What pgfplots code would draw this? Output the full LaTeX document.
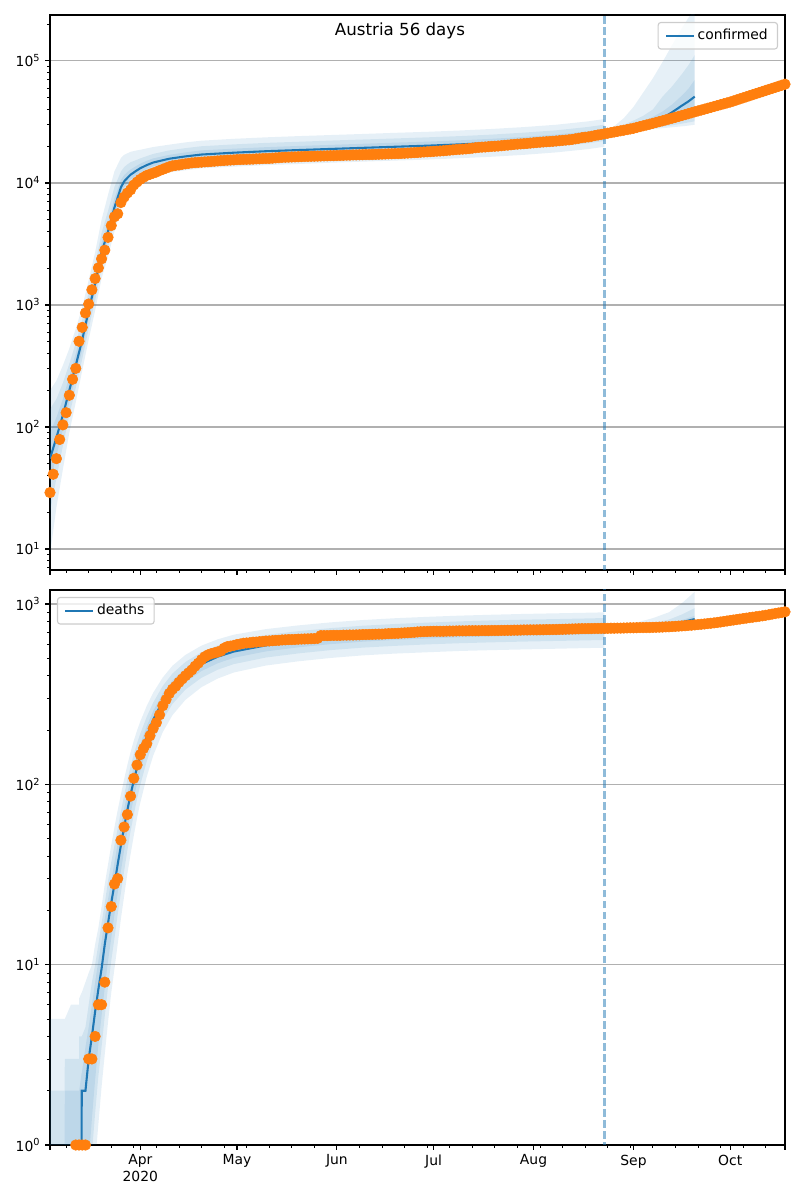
\documentclass[border=0pt]{standalone}
\usepackage{fontspec}
\setmainfont{DejaVu Sans}
\usepackage{pgfplots}
\usepackage{pgfplotstable}
\pgfplotsset{compat=1.18}
\usepgfplotslibrary{fillbetween}

\definecolor{tabblue}{HTML}{1F77B4}
\definecolor{taborange}{HTML}{FF7F0E}
\definecolor{gridgray}{HTML}{B0B0B0}
\definecolor{legendgray}{HTML}{CCCCCC}

% confirmed: fitted curve and three bands (1 inner, 3 outer)
\pgfplotstableread{
d   m     l1    h1    l2    h2    l3    h3
63  55    35    90    20    140   9     200
65  82    58    120   38    170   22    240
67  125   95    170   70    230   45    320
69  200   160   260   125   330   90    440
71  320   260   400   210   490   160   640
73  520   430   630   360   760   290   960
75  900   760   1080  640   1280  520   1600
77  1500  1280  1780  1090  2150  900   2700
79  2700  2300  3200  2000  3900  1650  5000
81  4000  3400  4800  2950  5900  2500  8000
83  6300  5400  7500  4700  9300  4000  12500
85  9200  8100  10600 7100  12400 6100  16000
86  10300 9200  11600 8200  13500 7000  17000
87  11000 10000 12300 9000  14200 7800  17500
88  11700 10700 12900 9700  14800 8500  18000
90  12700 11700 13900 10600 15500 9400  18500
91  13200 12200 14400 11100 15900 9800  18700
93  14000 13000 15200 11900 16600 10600 19200
95  14700 13700 15900 12600 17300 11300 19700
100 15800 14700 17000 13600 18500 12200 20600
105 16500 15350 17800 14200 19300 12700 21500
110 17100 15900 18500 14700 20000 13200 22200
120 17700 16500 19100 15200 20700 13600 23000
130 18200 16900 19650 15650 21300 14000 23650
140 18600 17300 20100 16000 21750 14300 24200
150 19000 17650 20500 16350 22250 14650 24700
160 19400 18050 20950 16700 22700 14950 25200
170 19800 18400 21400 17050 23150 15250 25750
180 20200 18800 21800 17350 23650 15550 26250
190 20700 19250 22350 17800 24200 15950 26900
200 21300 19800 23000 18300 24900 16400 27700
210 22100 20550 23850 19000 25850 17000 28700
220 23100 21500 24950 19850 27000 17800 30000
230 24600 22900 26550 21150 28800 18950 32000
235 25700 23900 27750 22100 30050 19800 33400
}\cfit

% confirmed: forecast after the cut
\pgfplotstableread{
d   m     l1    h1    l2    h2     l3    h3
235 25700 25300 26100 25000 26400  24800 26700
238 26700 26100 27400 25800 28000  25500 29200
241 27800 26900 28900 26500 30000  26100 34000
244 28800 27600 30300 27000 32500  26600 42000
247 30000 28400 32200 27600 35500  27100 55000
250 31500 29500 34800 28200 40000  27600 72000
253 34000 31200 38500 28900 51000  28100 98000
256 38000 33500 44000 29700 62000  28600 135000
259 43000 36500 52000 30600 78000  29100 185000
261 46500 38500 59000 31300 92000  29500 225000
263 51000 41000 70000 32000 112000 30000 270000
}\cfc

% deaths: fitted curve and bands
\pgfplotstableread{
d     m    l1   h1   l2   h2   l3   h3
63    0.1  0.1  1    0.1  2    0.1  5
67.5  0.1  0.1  1    0.1  2    0.1  5
67.6  0.1  0.1  2    0.1  3    0.1  5
69.5  0.1  0.1  2    0.1  3    0.1  6
72    0.1  0.1  2    0.1  3    0.1  6
72.05 1    0.1  2    0.1  4    0.1  6.5
72.8  1    0.1  2.5  0.1  4    0.1  7
72.85 2    0.1  2.5  0.1  4    0.1  7
74    2    0.4  3.5  0.2  4.5  0.1  8
75    3    0.8  4.5  0.5  6    0.2  9
76    4    1.4  6    0.9  8    0.4  10
77    5.5  2.3  8    1.5  10   0.8  13
78    7.3  3.6  10.5 2.4  13   1.3  16
79    9.5  5.2  13.5 3.5  17   2.1  21
80    13   7.5  18   5.2  22   3.2  28
81    17   10.5 23   7.5  29   4.8  36
82    22   14   29   10.5 37   7    46
83    28   19   37   14   46   9.5  58
84    36   25   47   19   57   13   72
85    46   33   59   25   71   18   88
86    58   43   73   33   87   24   107
87    72   55   89   43   106  32   128
88    88   69   107  55   126  41   151
89    105  84   126  68   147  52   175
90    124  101  146  83   169  65   199
91    144  119  167  99   191  79   223
93    185  157  210  134  237  110  272
95    228  197  255  172  284  144  322
98    290  256  320  228  352  195  392
101   345  309  377  279  412  242  455
105   405  367  440  335  477  294  522
110   465  425  502  390  541  346  588
115   510  469  549  432  589  386  637
120   545  503  585  464  626  417  676
130   590  546  632  505  674  456  726
140   620  575  663  532  707  481  761
150   645  599  689  555  735  502  791
160   665  618  711  573  758  519  815
170   680  632  727  586  775  531  834
180   692  643  740  597  789  540  849
190   703  654  752  606  801  549  862
200   711  661  761  613  811  555  872
210   718  668  768  619  819  560  881
220   724  673  775  624  825  565  888
230   730  679  781  629  832  570  895
235   733  682  784  632  836  572  899
}\dfit

% deaths: forecast after the cut
\pgfplotstableread{
d   m    l1   h1   l2   h2   l3   h3
235 733  730  737  728  740  726  745
240 737  733  742  730  748  727  760
245 743  738  750  733  762  729  790
250 752  745  763  738  785  733  835
255 770  760  785  752  820  745  900
259 793  780  815  770  875  758  1010
263 825  805  860  790  950  775  1170
}\dfc

\newcommand{\band}[4]{%
  \addplot[draw=none, forget plot, name path=#4hi] table[x=d, y=#3] {#1};
  \addplot[draw=none, forget plot, name path=#4lo] table[x=d, y=#2] {#1};
  \addplot[fill=tabblue, fill opacity=0.11, draw=none, forget plot] fill between[of=#4hi and #4lo];
}

\pgfplotsset{
  legend image code/.code={\draw[#1, line width=1.5pt] (0pt,0pt) -- (20pt,0pt);},
  panel/.style={
    scale only axis, width=529.2pt, height=399.6pt,
    xmin=63, xmax=291,
    axis line style={line width=0.8pt},
    tick align=outside, tick pos=left,
    major tick length=3.5pt, minor tick length=2pt,
    major tick style={black, line width=0.8pt},
    minor tick style={black, line width=0.6pt},
    xtick={63,91,121,152,182,213,244,274,291},
    minor xtick={68,75,82,89,96,103,110,117,124,131,138,145,152,159,166,173,180,187,194,201,208,215,222,229,236,243,250,257,264,271,278,285},
    ymajorgrids, major grid style={gridgray, line width=0.8pt},
    tick label style={font=\fontsize{10}{12}\selectfont},
    legend style={font=\fontsize{10}{12}\selectfont, draw=legendgray, line width=0.8pt,
      rounded corners=2pt, fill=white, fill opacity=0.8, text opacity=1,
      inner xsep=5pt, inner ysep=3pt, cells={anchor=west}},
  }
}

\begin{document}
\begin{tikzpicture}

% ---------------- confirmed ----------------
\begin{semilogyaxis}[panel, at={(36pt,453.6pt)}, anchor=south west,
  ymin=6.73, ymax=238000,
  ytick={10,100,1000,10000,100000},
  yticklabels={10\textsuperscript{1},10\textsuperscript{2},10\textsuperscript{3},10\textsuperscript{4},10\textsuperscript{5}},
  minor ytick={7,8,9,20,30,40,50,60,70,80,90,200,300,400,500,600,700,800,900,2000,3000,4000,5000,6000,7000,8000,9000,20000,30000,40000,50000,60000,70000,80000,90000,200000},
  xticklabels={},
  legend style={at={(1,1)}, anchor=north east, xshift=-5pt, yshift=-5pt},
]
\band{\cfit}{l3}{h3}{ca}
\band{\cfit}{l2}{h2}{cb}
\band{\cfit}{l1}{h1}{cc}
\band{\cfc}{l3}{h3}{cd}
\band{\cfc}{l2}{h2}{ce}
\band{\cfc}{l1}{h1}{cf}
\addplot[tabblue, line width=1.5pt] table[x=d, y=m] {\cfit};
\addlegendentry{confirmed}
\addplot[tabblue, line width=1.5pt, forget plot] table[x=d, y=m] {\cfc};
\addplot[tabblue, draw opacity=0.5, line width=1.5pt, dash pattern=on 5.5pt off 2.4pt, forget plot]
  coordinates {(235,1) (235,1000000)};
\addplot[only marks, mark=*, mark size=3.8pt, color=taborange, forget plot] coordinates {
(63,29)(64,41)(65,55)(66,79)(67,104)(68,131)(69,182)(70,246)(71,302)(72,504)
(73,655)(74,860)(75,1018)(76,1332)(77,1646)(78,2013)(79,2388)(80,2814)(81,3582)(82,4474)
(83,5283)(84,5588)(85,6909)(86,7657)(87,8271)(88,8788)(89,9618)(90,10180)(91,10711)(92,11129)
(93,11524)(94,11781)(95,12051)(96,12297)(97,12639)(98,12942)(99,13244)(100,13555)(101,13806)(102,13945)
(103,14041)(104,14226)(105,14336)(106,14476)(107,14595)(108,14671)(109,14749)(110,14795)(111,14873)(112,14925)
(113,15002)(114,15071)(115,15148)(116,15225)(117,15274)(118,15357)(119,15402)(120,15452)(121,15531)(122,15558)
(123,15597)(124,15621)(125,15650)(126,15684)(127,15752)(128,15774)(129,15833)(130,15871)(131,15882)(132,15961)
(133,16058)(134,16109)(135,16201)(136,16242)(137,16269)(138,16321)(139,16353)(140,16404)(141,16436)(142,16486)
(143,16503)(144,16539)(145,16557)(146,16591)(147,16628)(148,16655)(149,16685)(150,16731)(151,16733)(152,16771)
(153,16805)(154,16843)(155,16898)(156,16902)(157,16968)(158,16979)(159,17005)(160,17034)(161,17064)(162,17078)
(163,17109)(164,17135)(165,17189)(166,17223)(167,17271)(168,17323)(169,17341)(170,17380)(171,17406)(172,17449)
(173,17521)(174,17573)(175,17654)(176,17723)(177,17766)(178,17873)(179,17941)(180,18001)(181,18050)(182,18135)
(183,18222)(184,18280)(185,18365)(186,18472)(187,18573)(188,18682)(189,18783)(190,18873)(191,18948)(192,19015)
(193,19117)(194,19270)(195,19439)(196,19573)(197,19656)(198,19714)(199,19827)(200,19926)(201,19999)(202,20074)
(203,20187)(204,20343)(205,20418)(206,20558)(207,20702)(208,20808)(209,20889)(210,20975)(211,21085)(212,21212)
(213,21337)(214,21460)(215,21565)(216,21670)(217,21771)(218,21850)(219,21950)(220,22065)(221,22199)(222,22323)
(223,22446)(224,22581)(225,22745)(226,22997)(227,23232)(228,23499)(229,23692)(230,23847)(231,24125)(232,24429)
(233,24719)(234,24977)(235,25253)(236,25550)(237,25850)(238,26150)(239,26450)(240,26750)(241,27050)(242,27350)
(243,27700)(244,28050)(245,28500)(246,28950)(247,29400)(248,29850)(249,30300)(250,30800)(251,31300)(252,31800)
(253,32300)(254,32850)(255,33400)(256,33950)(257,34500)(258,35100)(259,35700)(260,36300)(261,36950)(262,37600)
(263,38270)(264,38920)(265,39580)(266,40250)(267,40930)(268,41620)(269,42330)(270,43050)(271,43780)(272,44520)
(273,45270)(274,46040)(275,46960)(276,47900)(277,48860)(278,49840)(279,50830)(280,51850)(281,52890)(282,53950)
(283,55030)(284,56130)(285,57250)(286,58400)(287,59560)(288,60750)(289,61970)(290,63210)(291,64470)
};
\end{semilogyaxis}

% ---------------- deaths ----------------
\begin{semilogyaxis}[panel, at={(36pt,39.6pt)}, anchor=south west,
  ymin=1, ymax=1196,
  ytick={1,10,100,1000},
  yticklabels={10\textsuperscript{0},10\textsuperscript{1},10\textsuperscript{2},10\textsuperscript{3}},
  minor ytick={2,3,4,5,6,7,8,9,20,30,40,50,60,70,80,90,200,300,400,500,600,700,800,900},
  xticklabels={,Apr\\2020,May,Jun,Jul,Aug,Sep,Oct,},
  xticklabel style={align=center},
  legend style={at={(0,1)}, anchor=north west, xshift=5pt, yshift=-5pt},
]
\band{\dfit}{l3}{h3}{da}
\band{\dfit}{l2}{h2}{db}
\band{\dfit}{l1}{h1}{dc}
\band{\dfc}{l3}{h3}{dd}
\band{\dfc}{l2}{h2}{de}
\band{\dfc}{l1}{h1}{df}
\addplot[tabblue, line width=1.5pt] table[x=d, y=m] {\dfit};
\addlegendentry{deaths}
\addplot[tabblue, line width=1.5pt, forget plot] table[x=d, y=m] {\dfc};
\addplot[tabblue, draw opacity=0.5, line width=1.5pt, dash pattern=on 5.5pt off 2.4pt, forget plot]
  coordinates {(235,0.1) (235,100000)};
\addplot[only marks, mark=*, mark size=3.8pt, color=taborange, forget plot] coordinates {
(71,1)(72,1)(73,1)(74,1)(75,3)(76,3)(77,4)(78,6)(79,6)(80,8)
(81,16)(82,21)(83,28)(84,30)(85,49)(86,58)(87,68)(88,86)(89,108)(90,128)
(91,146)(92,158)(93,168)(94,186)(95,204)(96,220)(97,243)(98,273)(99,295)(100,319)
(101,337)(102,350)(103,368)(104,384)(105,400)(106,415)(107,431)(108,452)(109,470)(110,491)
(111,510)(112,522)(113,530)(114,536)(115,542)(116,549)(117,569)(118,580)(119,584)(120,589)
(121,596)(122,600)(123,606)(124,608)(125,610)(126,614)(127,615)(128,618)(129,620)(130,623)
(131,624)(132,626)(133,628)(134,629)(135,632)(136,633)(137,635)(138,635)(139,636)(140,638)
(141,639)(142,640)(143,641)(144,642)(145,643)(146,645)(147,668)(148,668)(149,668)(150,669)
(151,670)(152,670)(153,670)(154,672)(155,672)(156,673)(157,673)(158,674)(159,675)(160,677)
(161,677)(162,678)(163,679)(164,680)(165,681)(166,681)(167,683)(168,685)(169,686)(170,687)
(171,688)(172,690)(173,692)(174,693)(175,695)(176,697)(177,700)(178,702)(179,703)(180,704)
(181,705)(182,706)(183,706)(184,706)(185,706)(186,707)(187,708)(188,708)(189,709)(190,710)
(191,710)(192,710)(193,711)(194,711)(195,711)(196,711)(197,712)(198,712)(199,712)(200,713)
(201,713)(202,713)(203,714)(204,714)(205,715)(206,715)(207,716)(208,716)(209,717)(210,718)
(211,718)(212,719)(213,719)(214,719)(215,720)(216,720)(217,721)(218,721)(219,722)(220,722)
(221,723)(222,724)(223,725)(224,726)(225,727)(226,728)(227,729)(228,730)(229,730)(230,731)
(231,731)(232,732)(233,732)(234,733)(235,733)(236,733)(237,734)(238,734)(239,735)(240,735)
(241,736)(242,737)(243,738)(244,738)(245,739)(246,740)(247,740)(248,741)(249,741)(250,742)
(251,743)(252,744)(253,745)(254,747)(255,748)(256,750)(257,752)(258,754)(259,756)(260,758)
(261,761)(262,763)(263,766)(264,769)(265,772)(266,775)(267,779)(268,782)(269,786)(270,790)
(271,795)(272,800)(273,805)(274,810)(275,815)(276,820)(277,825)(278,830)(279,835)(280,840)
(281,845)(282,850)(283,855)(284,860)(285,866)(286,872)(287,879)(288,886)(289,892)(290,898)
(291,905)
};
\end{semilogyaxis}

\node[font=\fontsize{12}{14}\selectfont, anchor=north, inner sep=0pt] at (288pt,848pt) {Austria 56 days};

\pgfresetboundingbox
\path[use as bounding box] (0,0) rectangle (576pt,864pt);
\end{tikzpicture}
\end{document}
